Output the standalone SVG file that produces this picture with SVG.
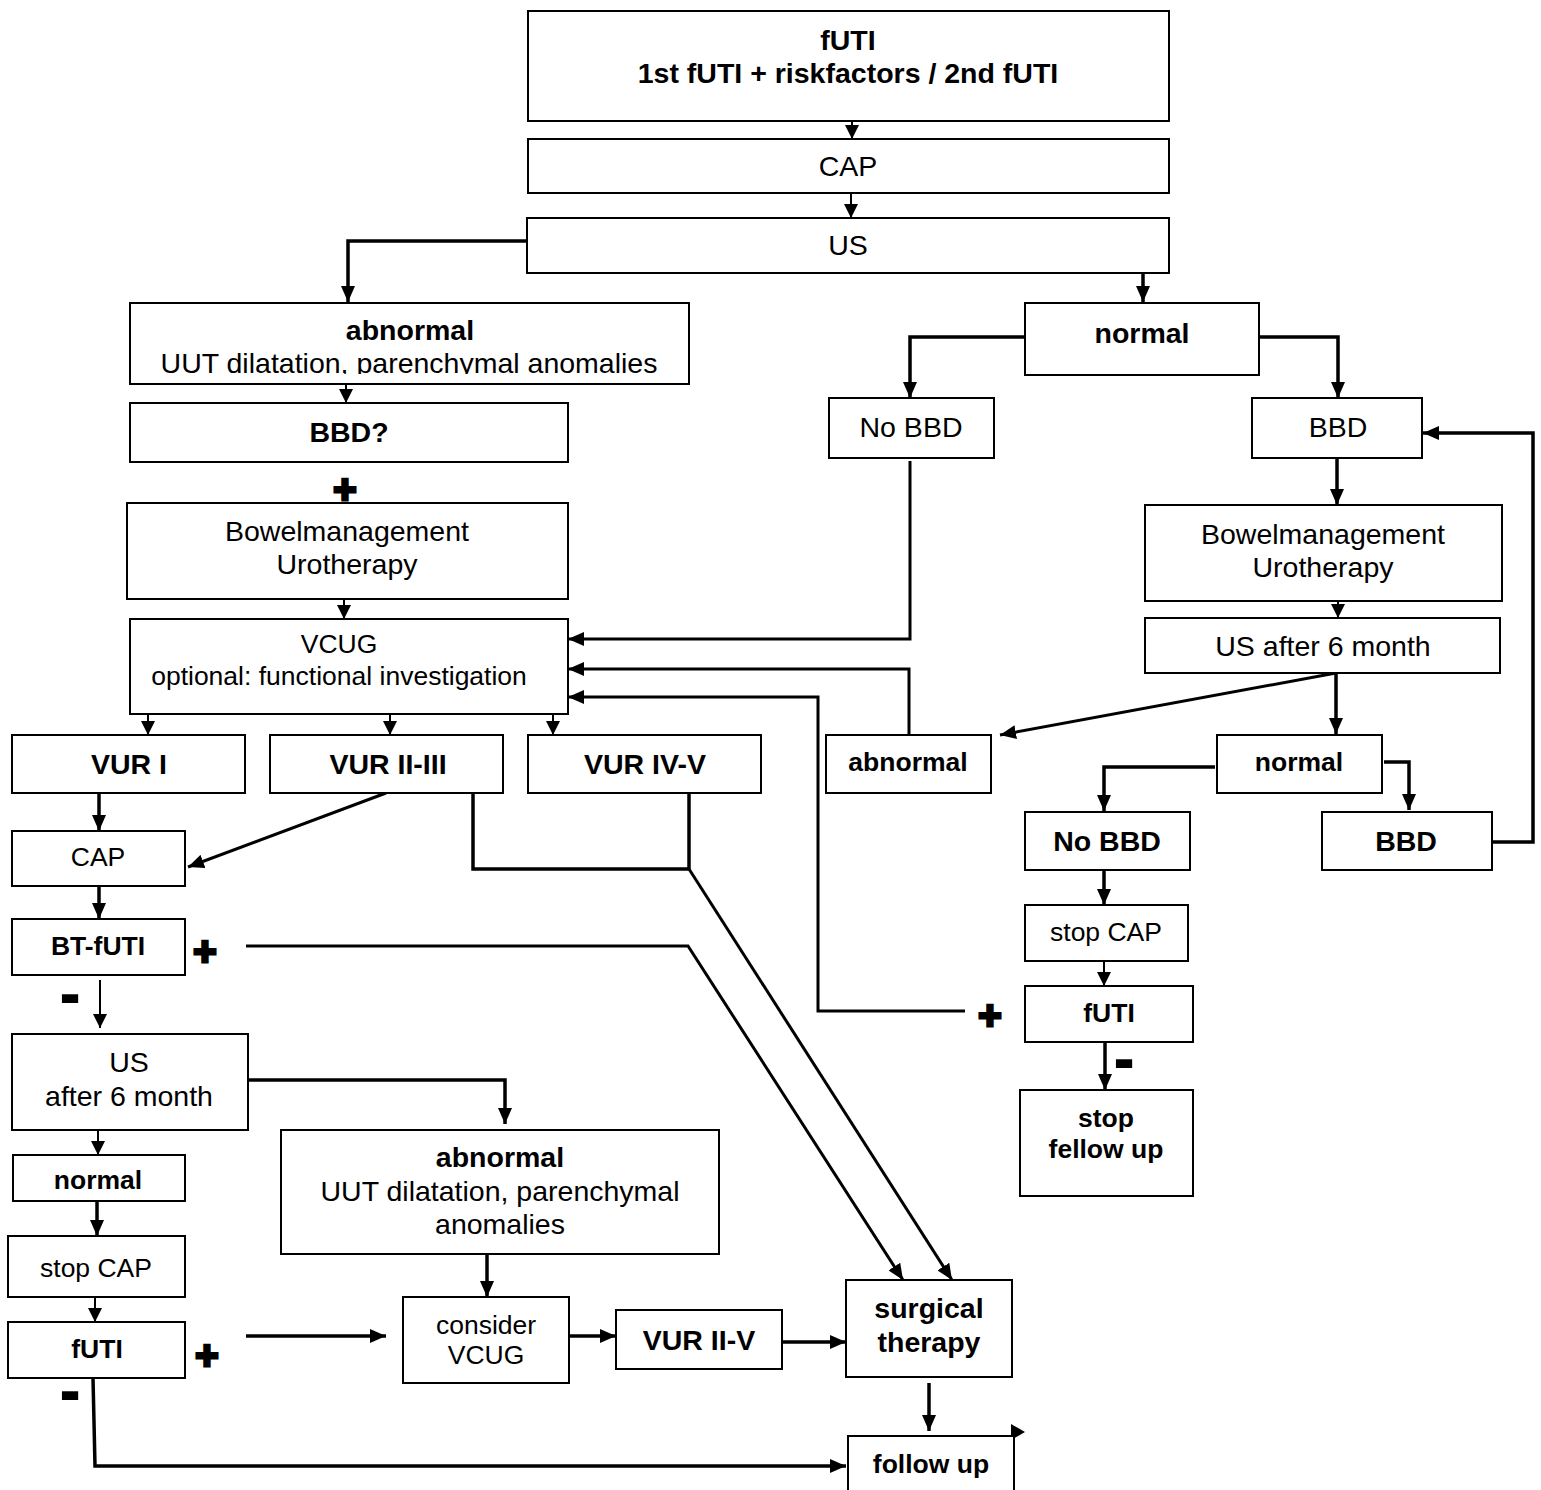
<svg xmlns="http://www.w3.org/2000/svg" width="1541" height="1490" viewBox="0 0 1541 1490">
<style>
.box{fill:#fff;stroke:#000;stroke-width:2}
.c{fill:none;stroke:#000;stroke-width:3.5;stroke-linejoin:miter}
.d{fill:none;stroke:#000;stroke-width:3}
.n{fill:none;stroke:#000;stroke-width:2}
.t{font-family:"Liberation Sans",Arial,Helvetica,sans-serif;font-size:28.5px;text-anchor:middle;fill:#000}
.b{font-weight:bold}
.s{font-size:26.5px}
.sign{font-family:"Liberation Sans",Arial,sans-serif;font-weight:bold;text-anchor:middle;fill:#000;stroke:#000}
.plus{font-size:40px;stroke-width:3}
.minus{font-size:56px;stroke-width:2}
</style>
<defs>
<marker id="ah" viewBox="0 0 16 14" refX="16" refY="7" markerWidth="16" markerHeight="14" markerUnits="userSpaceOnUse" orient="auto">
<path d="M0,0 L16,7 L0,14 z" fill="#000"/>
</marker>
<marker id="ahs" viewBox="0 0 14 14" refX="14" refY="7" markerWidth="14" markerHeight="14" markerUnits="userSpaceOnUse" orient="auto">
<path d="M0,0 L14,7 L0,14 z" fill="#000"/>
</marker>
<clipPath id="clipTop"><rect x="130" y="303" width="560" height="71"/></clipPath>
</defs>
<rect width="1541" height="1490" fill="#fff"/>

<g id="connectors">
<line class="n" x1="852" y1="117" x2="852" y2="139" marker-end="url(#ahs)"/>
<line class="n" x1="851" y1="193" x2="851" y2="218" marker-end="url(#ahs)"/>
<polyline class="c" points="527,241 348,241 348,302" marker-end="url(#ah)"/>
<line class="c" x1="1143" y1="274" x2="1143" y2="302" marker-end="url(#ah)"/>
<line class="n" x1="346" y1="384" x2="346" y2="403" marker-end="url(#ahs)"/>
<line class="n" x1="344" y1="599" x2="344" y2="619" marker-end="url(#ahs)"/>
<line class="n" x1="148" y1="714" x2="148" y2="735" marker-end="url(#ahs)"/>
<line class="n" x1="390" y1="714" x2="390" y2="735" marker-end="url(#ahs)"/>
<line class="n" x1="553" y1="714" x2="553" y2="735" marker-end="url(#ahs)"/>
<line class="c" x1="99" y1="793" x2="99" y2="831" marker-end="url(#ah)"/>
<line class="d" x1="386" y1="793" x2="188" y2="867" marker-end="url(#ah)"/>
<polyline class="c" points="473,793 473,869 689,869"/>
<line class="c" x1="689" y1="793" x2="689" y2="869"/>
<polyline class="d" points="689,869 952,1280" marker-end="url(#ah)"/>
<line class="c" x1="99" y1="886" x2="99" y2="919" marker-end="url(#ah)"/>
<polyline class="d" points="246,946 688,946 903,1280" marker-end="url(#ah)"/>
<line class="n" x1="100" y1="980" x2="100" y2="1028" marker-end="url(#ahs)"/>
<polyline class="c" points="248,1080 505,1080 505,1124" marker-end="url(#ah)"/>
<line class="n" x1="98" y1="1128" x2="98" y2="1155" marker-end="url(#ahs)"/>
<line class="c" x1="97" y1="1201" x2="97" y2="1236" marker-end="url(#ah)"/>
<line class="n" x1="95" y1="1297" x2="95" y2="1322" marker-end="url(#ahs)"/>
<line class="c" x1="487" y1="1254" x2="487" y2="1297" marker-end="url(#ah)"/>
<line class="c" x1="246" y1="1336" x2="386" y2="1336" marker-end="url(#ah)"/>
<line class="c" x1="569" y1="1336" x2="616" y2="1336" marker-end="url(#ah)"/>
<line class="c" x1="782" y1="1342" x2="846" y2="1342" marker-end="url(#ah)"/>
<line class="c" x1="929" y1="1383" x2="929" y2="1431" marker-end="url(#ah)"/>
<polyline class="c" points="93,1378 95,1466 846,1466" marker-end="url(#ah)"/>
<path d="M1011,1424 L1025,1432 L1011,1440 z" fill="#000"/>

<polyline class="c" points="1025,337 910,337 910,398" marker-end="url(#ah)"/>
<polyline class="c" points="1260,337 1338,337 1338,398" marker-end="url(#ah)"/>
<polyline class="d" points="910,461 910,639 568,639" marker-end="url(#ah)"/>
<line class="c" x1="1337" y1="458" x2="1337" y2="505" marker-end="url(#ah)"/>
<line class="n" x1="1338" y1="601" x2="1338" y2="618" marker-end="url(#ahs)"/>
<line class="d" x1="1336" y1="673" x2="1000" y2="735" marker-end="url(#ah)"/>
<line class="c" x1="1336" y1="673" x2="1336" y2="734" marker-end="url(#ah)"/>
<polyline class="d" points="909,735 909,669 568,669" marker-end="url(#ah)"/>
<polyline class="c" points="1215,767 1104,767 1104,811" marker-end="url(#ah)"/>
<polyline class="c" points="1384,762 1409,762 1409,810" marker-end="url(#ah)"/>
<polyline class="c" points="1492,842 1533,842 1533,433 1423,433" marker-end="url(#ah)"/>
<line class="c" x1="1104" y1="870" x2="1104" y2="905" marker-end="url(#ah)"/>
<line class="n" x1="1104" y1="961" x2="1104" y2="986" marker-end="url(#ahs)"/>
<polyline class="d" points="965,1011 818,1011 818,697 568,697" marker-end="url(#ah)"/>
<line class="c" x1="1105" y1="1042" x2="1105" y2="1090" marker-end="url(#ah)"/>
</g>

<g id="signs">
<text class="sign plus" x="345" y="503">+</text>
<text class="sign plus" x="205" y="965">+</text>
<text class="sign plus" x="207" y="1369">+</text>
<text class="sign plus" x="990" y="1029">+</text>
<text class="sign minus" x="70" y="1013">-</text>
<text class="sign minus" x="70" y="1410">-</text>
<text class="sign minus" x="1124" y="1078">-</text>
</g>

<g id="n-futi-top"><rect class="box" x="528" y="11" width="641" height="110"/>
<text class="t b" x="848" y="50">fUTI</text><text class="t b" x="848" y="83">1st fUTI + riskfactors / 2nd fUTI</text></g>
<g id="n-cap-top"><rect class="box" x="528" y="139" width="641" height="54"/><text class="t" x="848" y="176">CAP</text></g>
<g id="n-us-top"><rect class="box" x="527" y="218" width="642" height="55"/><text class="t" x="848" y="255">US</text></g>

<g id="n-abnormal-top"><rect class="box" x="130" y="303" width="559" height="81"/>
<text class="t b" x="410" y="340">abnormal</text>
<text class="t" x="409" y="373" clip-path="url(#clipTop)">UUT dilatation, parenchymal anomalies</text></g>
<g id="n-bbdq"><rect class="box" x="130" y="403" width="438" height="59"/><text class="t b" x="349" y="442">BBD?</text></g>
<g id="n-bowel-left"><rect class="box" x="127" y="503" width="441" height="96"/>
<text class="t" x="347" y="541">Bowelmanagement</text><text class="t" x="347" y="574">Urotherapy</text></g>
<g id="n-vcug"><rect class="box" x="130" y="619" width="438" height="95"/>
<text class="t s" x="339" y="653">VCUG</text><text class="t s" x="339" y="685">optional: functional investigation</text></g>
<g id="n-vur1"><rect class="box" x="12" y="735" width="233" height="58"/><text class="t b" x="129" y="774">VUR I</text></g>
<g id="n-vur23"><rect class="box" x="270" y="735" width="233" height="58"/><text class="t b" x="388" y="774">VUR II-III</text></g>
<g id="n-vur45"><rect class="box" x="528" y="735" width="233" height="58"/><text class="t b" x="645" y="774">VUR IV-V</text></g>
<g id="n-cap-left"><rect class="box" x="12" y="831" width="173" height="55"/><text class="t s" x="98" y="866">CAP</text></g>
<g id="n-btfuti"><rect class="box" x="12" y="919" width="173" height="56"/><text class="t s b" x="98" y="955">BT-fUTI</text></g>
<g id="n-us-left"><rect class="box" x="12" y="1034" width="236" height="96"/>
<text class="t" x="129" y="1072">US</text><text class="t" x="129" y="1106">after 6 month</text></g>
<g id="n-normal-left"><rect class="box" x="13" y="1155" width="172" height="46"/><text class="t s b" x="98" y="1189">normal</text></g>
<g id="n-abnormal-bottom"><rect class="box" x="281" y="1130" width="438" height="124"/>
<text class="t b" x="500" y="1167">abnormal</text><text class="t" x="500" y="1201">UUT dilatation, parenchymal</text><text class="t" x="500" y="1234">anomalies</text></g>
<g id="n-stopcap-left"><rect class="box" x="8" y="1236" width="177" height="61"/><text class="t s" x="96" y="1277">stop CAP</text></g>
<g id="n-futi-left"><rect class="box" x="8" y="1322" width="177" height="56"/><text class="t s b" x="97" y="1358">fUTI</text></g>
<g id="n-consider"><rect class="box" x="403" y="1297" width="166" height="86"/>
<text class="t s" x="486" y="1334">consider</text><text class="t s" x="486" y="1364">VCUG</text></g>
<g id="n-vur2v"><rect class="box" x="616" y="1310" width="166" height="59"/><text class="t b" x="699" y="1350">VUR II-V</text></g>
<g id="n-surgical"><rect class="box" x="846" y="1280" width="166" height="97"/>
<text class="t b" x="929" y="1318">surgical</text><text class="t b" x="929" y="1352">therapy</text></g>
<g id="n-followup"><rect class="box" x="848" y="1436" width="166" height="70"/><text class="t s b" x="931" y="1473">follow up</text></g>

<g id="n-normal-top"><rect class="box" x="1025" y="303" width="234" height="72"/><text class="t b" x="1142" y="343">normal</text></g>
<g id="n-nobbd-top"><rect class="box" x="829" y="398" width="165" height="60"/><text class="t" x="911" y="437">No BBD</text></g>
<g id="n-bbd-top"><rect class="box" x="1252" y="398" width="170" height="60"/><text class="t" x="1338" y="437">BBD</text></g>
<g id="n-bowel-right"><rect class="box" x="1145" y="505" width="357" height="96"/>
<text class="t" x="1323" y="544">Bowelmanagement</text><text class="t" x="1323" y="577">Urotherapy</text></g>
<g id="n-us-right"><rect class="box" x="1145" y="618" width="355" height="55"/><text class="t" x="1323" y="656">US after 6 month</text></g>
<g id="n-abnormal-mid"><rect class="box" x="826" y="735" width="165" height="58"/><text class="t s b" x="908" y="771">abnormal</text></g>
<g id="n-normal-mid"><rect class="box" x="1217" y="735" width="165" height="58"/><text class="t s b" x="1299" y="771">normal</text></g>
<g id="n-nobbd-mid"><rect class="box" x="1025" y="812" width="165" height="58"/><text class="t b" x="1107" y="851">No BBD</text></g>
<g id="n-bbd-mid"><rect class="box" x="1322" y="812" width="170" height="58"/><text class="t b" x="1406" y="851">BBD</text></g>
<g id="n-stopcap-right"><rect class="box" x="1025" y="905" width="163" height="56"/><text class="t s" x="1106" y="941">stop CAP</text></g>
<g id="n-futi-right"><rect class="box" x="1025" y="986" width="168" height="56"/><text class="t s b" x="1109" y="1022">fUTI</text></g>
<g id="n-stopfollow"><rect class="box" x="1020" y="1090" width="173" height="106"/>
<text class="t s b" x="1106" y="1127">stop</text><text class="t s b" x="1106" y="1158">fellow up</text></g>
</svg>
